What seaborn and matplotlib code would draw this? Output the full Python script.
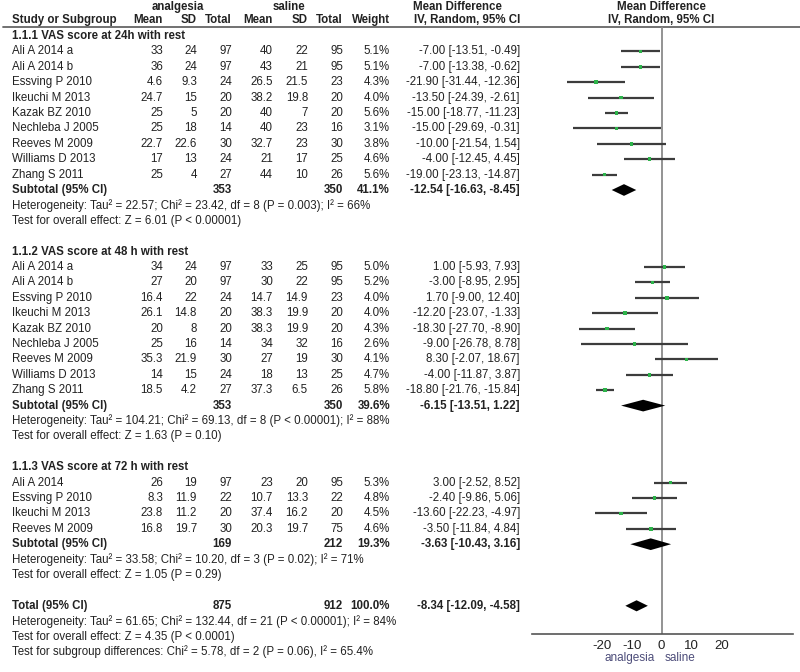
# -*- coding: utf-8 -*-
"""Forest plot: VAS score, analgesia vs saline (RevMan style)."""

import numpy as np
import matplotlib
matplotlib.use("Agg")
import matplotlib.pyplot as plt
import seaborn as sns

# ---------------- data ----------------
groups = ["1.1.1 VAS score at 24h with rest",
          "1.1.2 VAS score at 48 h with rest",
          "1.1.3 VAS score at 72 h with rest"]

studies_1 = ["Ali A 2014 a", "Ali A 2014 b", "Essving P 2010", "Ikeuchi M 2013",
             "Kazak BZ 2010", "Nechleba J 2005", "Reeves M 2009",
             "Williams D 2013", "Zhang S 2011"]
an_mean_1 = [33, 36, 4.6, 24.7, 25, 25, 22.7, 17, 25]
an_sd_1 = [24, 24, 9.3, 15, 5, 18, 22.6, 13, 4]
an_n_1 = [97, 97, 24, 20, 20, 14, 30, 24, 27]
sa_mean_1 = [40, 43, 26.5, 38.2, 40, 40, 32.7, 21, 44]
sa_sd_1 = [22, 21, 21.5, 19.8, 7, 23, 23, 17, 10]
sa_n_1 = [95, 95, 23, 20, 20, 16, 30, 25, 26]
weight_1 = [5.1, 5.1, 4.3, 4.0, 5.6, 3.1, 3.8, 4.6, 5.6]
md_1 = [-7.00, -7.00, -21.90, -13.50, -15.00, -15.00, -10.00, -4.00, -19.00]
lo_1 = [-13.51, -13.38, -31.44, -24.39, -18.77, -29.69, -21.54, -12.45, -23.13]
hi_1 = [-0.49, -0.62, -12.36, -2.61, -11.23, -0.31, 1.54, 4.45, -14.87]

studies_2 = ["Ali A 2014 a", "Ali A 2014 b", "Essving P 2010", "Ikeuchi M 2013",
             "Kazak BZ 2010", "Nechleba J 2005", "Reeves M 2009",
             "Williams D 2013", "Zhang S 2011"]
an_mean_2 = [34, 27, 16.4, 26.1, 20, 25, 35.3, 14, 18.5]
an_sd_2 = [24, 20, 22, 14.8, 8, 16, 21.9, 15, 4.2]
an_n_2 = [97, 97, 24, 20, 20, 14, 30, 24, 27]
sa_mean_2 = [33, 30, 14.7, 38.3, 38.3, 34, 27, 18, 37.3]
sa_sd_2 = [25, 22, 14.9, 19.9, 19.9, 32, 19, 13, 6.5]
sa_n_2 = [95, 95, 23, 20, 20, 16, 30, 25, 26]
weight_2 = [5.0, 5.2, 4.0, 4.0, 4.3, 2.6, 4.1, 4.7, 5.8]
md_2 = [1.00, -3.00, 1.70, -12.20, -18.30, -9.00, 8.30, -4.00, -18.80]
lo_2 = [-5.93, -8.95, -9.00, -23.07, -27.70, -26.78, -2.07, -11.87, -21.76]
hi_2 = [7.93, 2.95, 12.40, -1.33, -8.90, 8.78, 18.67, 3.87, -15.84]

studies_3 = ["Ali A 2014", "Essving P 2010", "Ikeuchi M 2013", "Reeves M 2009"]
an_mean_3 = [26, 8.3, 23.8, 16.8]
an_sd_3 = [19, 11.9, 11.2, 19.7]
an_n_3 = [97, 22, 20, 30]
sa_mean_3 = [23, 10.7, 37.4, 20.3]
sa_sd_3 = [20, 13.3, 16.2, 19.7]
sa_n_3 = [95, 22, 20, 75]
weight_3 = [5.3, 4.8, 4.5, 4.6]
md_3 = [3.00, -2.40, -13.60, -3.50]
lo_3 = [-2.52, -9.86, -22.23, -11.84]
hi_3 = [8.52, 5.06, -4.97, 4.84]

# subtotals: analgesia n, saline n, weight, md, lo, hi
sub_an_n = [353, 353, 169]
sub_sa_n = [350, 350, 212]
sub_weight = [41.1, 39.6, 19.3]
sub_md = [-12.54, -6.15, -3.63]
sub_lo = [-16.63, -13.51, -10.43]
sub_hi = [-8.45, 1.22, 3.16]

heterogeneity = [
    "Heterogeneity: Tau\u00b2 = 22.57; Chi\u00b2 = 23.42, df = 8 (P = 0.003); I\u00b2 = 66%",
    "Heterogeneity: Tau\u00b2 = 104.21; Chi\u00b2 = 69.13, df = 8 (P < 0.00001); I\u00b2 = 88%",
    "Heterogeneity: Tau\u00b2 = 33.58; Chi\u00b2 = 10.20, df = 3 (P = 0.02); I\u00b2 = 71%"]
overall = ["Test for overall effect: Z = 6.01 (P < 0.00001)",
           "Test for overall effect: Z = 1.63 (P = 0.10)",
           "Test for overall effect: Z = 1.05 (P = 0.29)"]

total_an_n = 875
total_sa_n = 912
total_md, total_lo, total_hi = -8.34, -12.09, -4.58
total_notes = [
    "Heterogeneity: Tau\u00b2 = 61.65; Chi\u00b2 = 132.44, df = 21 (P < 0.00001); I\u00b2 = 84%",
    "Test for overall effect: Z = 4.35 (P < 0.0001)",
    "Test for subgroup differences: Chi\u00b2 = 5.78, df = 2 (P = 0.06), I\u00b2 = 65.4%"]

x_ticks = [-20, -10, 0, 10, 20]

# ---------------- style ----------------
sns.set_theme(style="white")
plt.rcParams['font.family'] = ['Liberation Sans', 'DejaVu Sans']

TXT = "#222222"
FS = 8.3
LINE = "#3c3c3c"
GREEN = "#2db34a"

fig = plt.figure(figsize=(8, 6.72), dpi=100)

# text axes: x in pixels, y in row units
def row_of(py):
    return (py - 36) / 15.4

tax = fig.add_axes([0, 0, 1, 1])
tax.set_xlim(0, 800)
tax.set_ylim(row_of(672), row_of(0))
tax.axis("off")

# forest axes
left_px, right_px, top_px, bot_px = 531.7, 793.3, 27, 634
fax = fig.add_axes([left_px / 800, (672 - bot_px) / 672,
                    (right_px - left_px) / 800, (bot_px - top_px) / 672])
fax.set_xlim(-43.3, 43.9)
fax.set_ylim(row_of(bot_px), row_of(top_px))
fax.patch.set_alpha(0)
for s in ["top", "left", "right"]:
    fax.spines[s].set_visible(False)
fax.spines["bottom"].set_color("#555555")
fax.spines["bottom"].set_linewidth(1.2)
fax.set_yticks([])
fax.set_xticks(x_ticks)
fax.set_xticklabels([str(t) for t in x_ticks], fontsize=9.5, color=TXT)
fax.tick_params(axis="x", direction="inout", length=8, width=1.2,
                color="#555555", pad=0)
fax.axvline(0, color="#8a8a8a", lw=1.3, zorder=1)

# column positions (pixels)
cx = dict(study=12, an_mean=163, an_sd=197, an_n=232, sa_mean=273,
          sa_sd=308, sa_n=343, weight=390, md=520)


def put(x, r, s, ha="right", bold=False, **kw):
    tax.text(x, r, s, ha=ha, va="center", fontsize=FS, color=TXT,
             fontweight="bold" if bold else "normal", **kw)


def fmt(v):
    return f"{v:g}"


def ci_text(m, lo, hi):
    return f"{m:.2f} [{lo:.2f}, {hi:.2f}]"


# header
hdr_r1, hdr_r2 = row_of(7), row_of(20)
put(178, hdr_r1, "analgesia", ha="center", bold=True)
put(289, hdr_r1, "saline", ha="center", bold=True)
put(457, hdr_r1, "Mean Difference", ha="center", bold=True)
put(661, hdr_r1, "Mean Difference", ha="center", bold=True)
put(cx["study"], hdr_r2, "Study or Subgroup", ha="left", bold=True)
for key, lab in [("an_mean", "Mean"), ("an_sd", "SD"), ("an_n", "Total"),
                 ("sa_mean", "Mean"), ("sa_sd", "SD"), ("sa_n", "Total"),
                 ("weight", "Weight")]:
    put(cx[key], hdr_r2, lab, bold=True)
put(467, hdr_r2, "IV, Random, 95% CI", ha="center", bold=True)
put(661, hdr_r2, "IV, Random, 95% CI", ha="center", bold=True)
tax.axhline(row_of(27), xmin=3 / 800, xmax=1, color="#666666", lw=1.3)

# groups
group_data = [
    (studies_1, an_mean_1, an_sd_1, an_n_1, sa_mean_1, sa_sd_1, sa_n_1, weight_1, md_1, lo_1, hi_1),
    (studies_2, an_mean_2, an_sd_2, an_n_2, sa_mean_2, sa_sd_2, sa_n_2, weight_2, md_2, lo_2, hi_2),
    (studies_3, an_mean_3, an_sd_3, an_n_3, sa_mean_3, sa_sd_3, sa_n_3, weight_3, md_3, lo_3, hi_3),
]

pts_x, pts_y = [], []
r = 0
for g, (names, am, asd, an, sm, ssd, sn, w, md, lo, hi) in enumerate(group_data):
    put(cx["study"], r, groups[g], ha="left", bold=True)
    r += 1
    for i in range(len(names)):
        put(cx["study"], r, names[i], ha="left")
        put(cx["an_mean"], r, fmt(am[i]))
        put(cx["an_sd"], r, fmt(asd[i]))
        put(cx["an_n"], r, str(an[i]))
        put(cx["sa_mean"], r, fmt(sm[i]))
        put(cx["sa_sd"], r, fmt(ssd[i]))
        put(cx["sa_n"], r, str(sn[i]))
        put(cx["weight"], r, f"{w[i]:.1f}%")
        put(cx["md"], r, ci_text(md[i], lo[i], hi[i]))
        fax.hlines(r, lo[i], hi[i], color=LINE, lw=1.6, zorder=2)
        pts_x.append(md[i])
        pts_y.append(r)
        r += 1
    # subtotal
    put(cx["study"], r, "Subtotal (95% CI)", ha="left", bold=True)
    put(cx["an_n"], r, str(sub_an_n[g]), bold=True)
    put(cx["sa_n"], r, str(sub_sa_n[g]), bold=True)
    put(cx["weight"], r, f"{sub_weight[g]:.1f}%", bold=True)
    put(cx["md"], r, ci_text(sub_md[g], sub_lo[g], sub_hi[g]), bold=True)
    fax.fill([sub_lo[g], sub_md[g], sub_hi[g], sub_md[g]],
             [r, r - 0.38, r, r + 0.38], color="black", lw=0, zorder=3)
    r += 1
    put(cx["study"], r, heterogeneity[g], ha="left")
    r += 1
    put(cx["study"], r, overall[g], ha="left")
    r += 2

# total
put(cx["study"], r, "Total (95% CI)", ha="left", bold=True)
put(cx["an_n"], r, str(total_an_n), bold=True)
put(cx["sa_n"], r, str(total_sa_n), bold=True)
put(cx["weight"], r, "100.0%", bold=True)
put(cx["md"], r, ci_text(total_md, total_lo, total_hi), bold=True)
fax.fill([total_lo, total_md, total_hi, total_md],
         [r, r - 0.36, r, r + 0.36], color="black", lw=0, zorder=3)
for note in total_notes:
    r += 1
    put(cx["study"], r, note, ha="left")

# point estimates
sns.scatterplot(x=pts_x, y=pts_y, ax=fax, marker="s", s=7, color=GREEN,
                edgecolor="none", zorder=4)
fax.set_xlim(-43.3, 43.9)
fax.set_ylim(row_of(bot_px), row_of(top_px))

# favours labels
tax.text(630, row_of(658), "analgesia", ha="center", va="center",
         fontsize=8.5, color="#4d4d7a")
tax.text(680, row_of(658), "saline", ha="center", va="center",
         fontsize=8.5, color="#4d4d7a")

fig.savefig("out.png", dpi=100, facecolor="white")
